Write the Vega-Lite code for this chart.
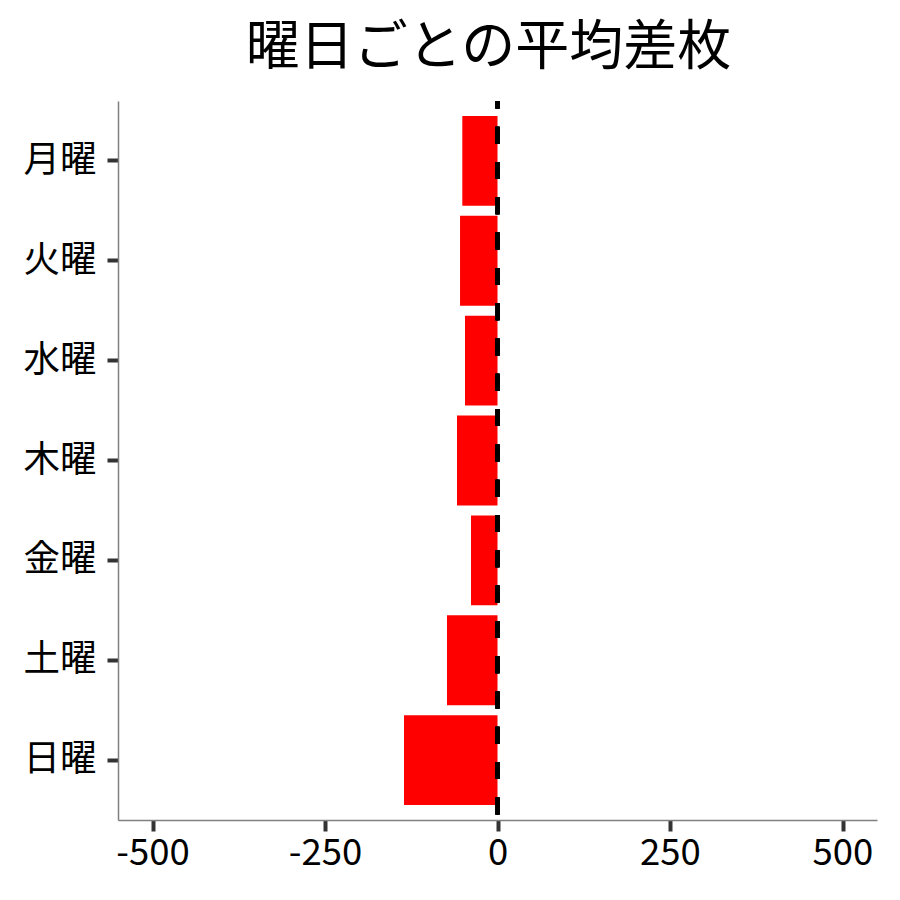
{
  "$schema": "https://vega.github.io/schema/vega-lite/v6.json",
  "width": 759,
  "height": 719,
  "autosize": "none",
  "padding": {"left": 118, "top": 101, "right": 23, "bottom": 80},
  "background": "white",
  "config": {
    "view": {"stroke": null},
    "font": "Noto Sans CJK JP"
  },
  "title": {
    "text": "曜日ごとの平均差枚",
    "font": "Noto Sans CJK JP",
    "fontSize": 54,
    "fontWeight": "normal",
    "color": "black",
    "anchor": "middle",
    "offset": 23,
    "dx": -9
  },
  "data": {
    "values": [
      {"day": "月曜", "diff": -51.0},
      {"day": "火曜", "diff": -54.3},
      {"day": "水曜", "diff": -47.1},
      {"day": "木曜", "diff": -58.7},
      {"day": "金曜", "diff": -38.4},
      {"day": "土曜", "diff": -73.2},
      {"day": "日曜", "diff": -135.5}
    ]
  },
  "encoding": {
    "x": {
      "type": "quantitative",
      "scale": {"domain": [-550, 550], "nice": false, "zero": false},
      "axis": {
        "values": [-500, -250, 0, 250, 500],
        "title": null,
        "grid": false,
        "labelExpr": "'' + datum.value",
        "labelFont": "Noto Sans CJK JP",
        "labelFontSize": 36.5,
        "labelColor": "black",
        "labelPadding": 4,
        "domainColor": "#808080",
        "domainWidth": 1.5,
        "tickColor": "#333333",
        "tickWidth": 4,
        "tickSize": 11
      }
    }
  },
  "layer": [
    {
      "mark": {"type": "bar", "color": "#ff0000"},
      "encoding": {
        "x": {"field": "diff", "type": "quantitative"},
        "x2": {"datum": 0},
        "y": {
          "field": "day",
          "type": "nominal",
          "sort": ["月曜", "火曜", "水曜", "木曜", "金曜", "土曜", "日曜"],
          "scale": {"paddingInner": 0.1, "paddingOuter": 0.15},
          "axis": {
            "title": null,
            "grid": false,
            "labelFont": "Noto Sans CJK JP",
            "labelFontSize": 36.5,
            "labelColor": "black",
            "labelPadding": 11,
            "domainColor": "#808080",
            "domainWidth": 1.5,
            "tickColor": "#333333",
            "tickWidth": 4,
            "tickSize": 11
          }
        }
      }
    },
    {
      "mark": {"type": "rule", "color": "black", "strokeWidth": 4, "strokeDash": [17, 18.3], "strokeDashOffset": 9.6},
      "encoding": {
        "x": {"datum": 0}
      }
    }
  ]
}
